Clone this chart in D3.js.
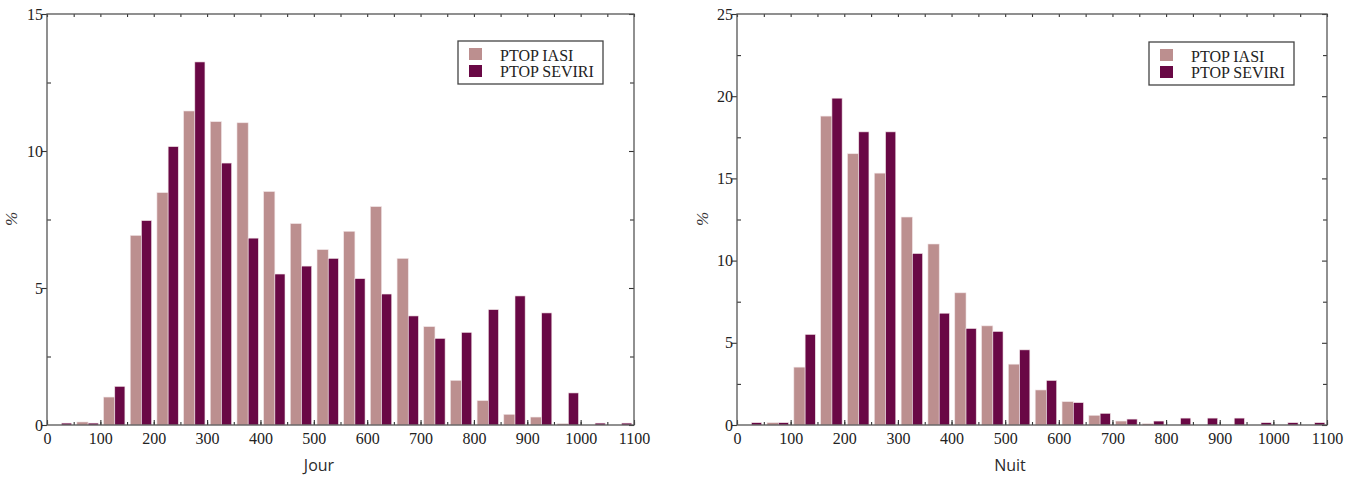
<!DOCTYPE html>
<html>
<head>
<meta charset="utf-8">
<script src="https://cdn.jsdelivr.net/npm/d3@7"></script>
<style>
  body { margin: 0; background: #fff; }
  svg { display: block; }
</style>
</head>
<body>
<svg></svg>
<script>
// bins of 50 units, start of each bin
let binStarts  = [0, 50, 100, 150, 200, 250, 300, 350, 400, 450, 500, 550, 600, 650, 700, 750, 800, 850, 900, 950, 1000, 1050],
    xTicks     = [0, 100, 200, 300, 400, 500, 600, 700, 800, 900, 1000, 1100],
    seriesNames = ["PTOP IASI", "PTOP SEVIRI"],

    // Jour
    jourIasi   = [0, 0.11, 1.02, 6.92, 8.48, 11.46, 11.07, 11.03, 8.52, 7.35, 6.40, 7.07, 7.97, 6.08, 3.59, 1.63, 0.89, 0.39, 0.29, 0.05, 0, 0],
    jourSeviri = [0.07, 0.07, 1.41, 7.46, 10.16, 13.25, 9.56, 6.82, 5.51, 5.80, 6.08, 5.34, 4.78, 3.98, 3.16, 3.38, 4.21, 4.71, 4.09, 1.17, 0.07, 0.07],
    jourYMajor = [0, 5, 10, 15],
    jourYMinor = [2.5, 7.5, 12.5],

    // Nuit
    nuitIasi   = [0, 0.14, 3.52, 18.79, 16.50, 15.32, 12.65, 11.01, 8.04, 6.03, 3.70, 2.13, 1.42, 0.59, 0.24, 0.08, 0, 0, 0, 0, 0, 0],
    nuitSeviri = [0.14, 0.14, 5.51, 19.88, 17.83, 17.83, 10.43, 6.80, 5.87, 5.69, 4.57, 2.71, 1.36, 0.71, 0.36, 0.24, 0.42, 0.42, 0.42, 0.14, 0.14, 0.14],
    nuitYMajor = [0, 5, 10, 15, 20, 25],
    nuitYMinor = [2.5, 7.5, 12.5, 17.5, 22.5];

let width = 1359, height = 479,
    colors = ["#bc8f8f", "#690845"],
    serif = "Liberation Serif",

    svg = d3.select("svg")
            .attr("width", width)
            .attr("height", height);

svg.append("rect").attr("width", width).attr("height", height).attr("fill", "#fff");

drawPanel({left: 47, right: 634, top: 14, bottom: 425, yMax: 15, yMajor: jourYMajor, yMinor: jourYMinor,
           iasi: jourIasi, seviri: jourSeviri, title: "Jour", titleX: 319, pctX: 12, legendX: 458, legendY: 41});

drawPanel({left: 737, right: 1327, top: 14, bottom: 425, yMax: 25, yMajor: nuitYMajor, yMinor: nuitYMinor,
           iasi: nuitIasi, seviri: nuitSeviri, title: "Nuit", titleX: 1010, pctX: 703, legendX: 1149, legendY: 42});

function drawPanel(p){
  let xScale = d3.scaleLinear().domain([0, 1100]).range([p.left, p.right]),
      yScale = d3.scaleLinear().domain([0, p.yMax]).range([p.bottom, p.top]),
      g = svg.append("g");

  // bars : IASI on left part of bin, SEVIRI on right part
  let bins = binStarts.map((b, i) => ({b: b, iasi: p.iasi[i], seviri: p.seviri[i]}));

  g.selectAll("rect.iasi")
    .data(bins.filter(d => d.iasi > 0))
    .enter()
    .append("rect")
    .attr("class", "iasi")
    .attr("x", d => xScale(d.b + 6))
    .attr("width", d => xScale(d.b + 27) - xScale(d.b + 6))
    .attr("y", d => yScale(d.iasi))
    .attr("height", d => yScale(0) - yScale(d.iasi))
    .attr("fill", colors[0])
    .attr("stroke", "#f1e4e6")
    .attr("stroke-width", 0.6);

  g.selectAll("rect.seviri")
    .data(bins.filter(d => d.seviri > 0))
    .enter()
    .append("rect")
    .attr("class", "seviri")
    .attr("x", d => xScale(d.b + 27))
    .attr("width", d => xScale(d.b + 46) - xScale(d.b + 27))
    .attr("y", d => yScale(d.seviri))
    .attr("height", d => yScale(0) - yScale(d.seviri))
    .attr("fill", colors[1])
    .attr("stroke", "#f1e4e6")
    .attr("stroke-width", 0.6);

  // ticks
  let tickAxes = [
    [d3.axisBottom(xScale).tickValues(xScale.ticks(22)).tickSize(-3), `translate(0,${p.bottom})`],
    [d3.axisBottom(xScale).tickValues(xTicks).tickSize(-5), `translate(0,${p.bottom})`],
    [d3.axisTop(xScale).tickValues(xScale.ticks(22)).tickSize(-3), `translate(0,${p.top})`],
    [d3.axisLeft(yScale).tickValues(p.yMajor).tickSize(5), `translate(${p.left},0)`],
    [d3.axisLeft(yScale).tickValues(p.yMinor).tickSize(-4), `translate(${p.left},0)`],
    [d3.axisRight(yScale).tickValues(p.yMajor).tickSize(-5), `translate(${p.right},0)`],
    [d3.axisRight(yScale).tickValues(p.yMinor).tickSize(-4), `translate(${p.right},0)`]
  ];
  tickAxes.forEach(a => {
    let ax = g.append("g").attr("transform", a[1]).call(a[0].tickFormat(""));
    ax.select(".domain").remove();
    ax.selectAll("line").attr("stroke", "#333").attr("stroke-width", 1.1);
  });

  // labels
  let xLab = g.append("g")
    .attr("transform", `translate(0,${p.bottom})`)
    .call(d3.axisBottom(xScale).tickValues(xTicks).tickFormat(d3.format("d")).tickSize(0).tickPadding(8))
    .attr("font-family", serif)
    .attr("font-size", 16);
  xLab.select(".domain").remove();
  xLab.selectAll("text").attr("font-family", serif).attr("font-size", 16).attr("fill", "#222");

  let yLab = g.append("g")
    .attr("transform", `translate(${p.left},0)`)
    .call(d3.axisLeft(yScale).tickValues(p.yMajor).tickFormat(d3.format("d")).tickSize(0).tickPadding(4))
    .attr("font-family", serif)
    .attr("font-size", 16);
  yLab.select(".domain").remove();
  yLab.selectAll("text").attr("font-family", serif).attr("font-size", 16).attr("fill", "#222");

  // frame
  g.append("rect")
    .attr("x", p.left).attr("y", p.top)
    .attr("width", p.right - p.left).attr("height", p.bottom - p.top)
    .attr("fill", "none")
    .attr("stroke", "#555")
    .attr("stroke-width", 1.3);

  g.append("text")
    .attr("x", p.titleX)
    .attr("y", 471)
    .text(p.title)
    .style("text-anchor", "middle")
    .attr("font-family", "Open Sans")
    .attr("font-size", 16)
    .attr("fill", "#2a2a2a");

  g.append("text")
    .attr("transform", `translate(${p.pctX + 5},219) rotate(-90)`)
    .text("%")
    .attr("text-anchor", "middle")
    .attr("font-family", serif)
    .attr("font-style", "italic")
    .attr("font-size", 17)
    .attr("fill", "#333");

  // legend
  let leg = g.append("g").attr("transform", `translate(${p.legendX},${p.legendY})`);
  leg.append("rect")
    .attr("width", 145).attr("height", 43)
    .attr("fill", "#fff")
    .attr("stroke", "#444")
    .attr("stroke-width", 1.3);
  seriesNames.forEach((name, i) => {
    leg.append("rect")
      .attr("x", 11).attr("y", 7 + i * 17)
      .attr("width", 13).attr("height", 12)
      .attr("fill", colors[i]);
    leg.append("text")
      .attr("x", 42).attr("y", 19.5 + i * 16.5)
      .text(name)
      .attr("font-family", serif)
      .attr("font-size", 16)
      .attr("fill", "#222");
  });
}
</script>
</body>
</html>
